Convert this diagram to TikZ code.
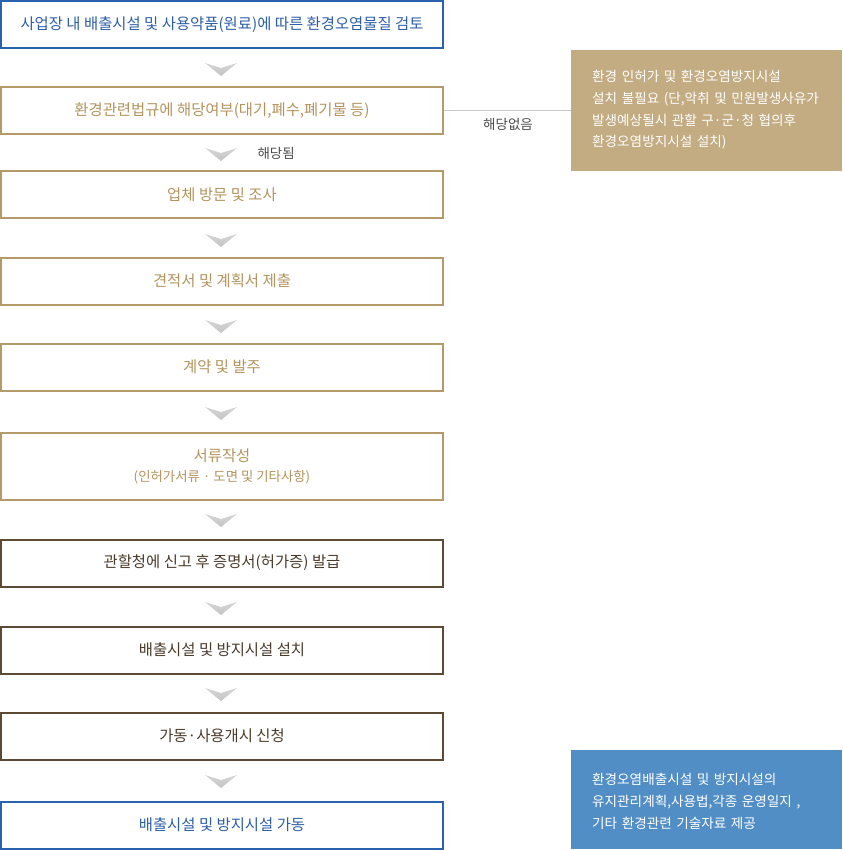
\documentclass[tikz,border=0pt]{standalone}
\usepackage{fontspec}
\newfontfamily\kr{Noto Sans CJK KR}
\definecolor{bblue}{HTML}{2A62B0}
\definecolor{tblue}{HTML}{2D5FA8}
\definecolor{btan}{HTML}{B49A68}
\definecolor{ttan}{HTML}{B3945F}
\definecolor{bbrown}{HTML}{5C4A33}
\definecolor{tbrown}{HTML}{4A3B2A}
\definecolor{sidetan}{HTML}{C3AB82}
\definecolor{sideblue}{HTML}{528EC6}
\definecolor{chev}{HTML}{C4C4C4}
\definecolor{lgray}{HTML}{C8C8C8}
\begin{document}
\begin{tikzpicture}[x=1pt,y=-1pt,
  box/.style={draw, line width=2pt, minimum width=442pt, minimum height=47pt, inner sep=0pt, align=center, font=\kr\fontsize{15.4}{21}\selectfont, fill=white},
  bluebox/.style={box, draw=bblue, text=tblue},
  tanbox/.style={box, draw=btan, text=ttan},
  brownbox/.style={box, draw=bbrown, text=tbrown},
  side/.style={minimum width=271pt, inner sep=0pt, anchor=north west, text=white, font=\kr\fontsize{13.6}{21.8}\selectfont, align=left, text width=227pt},
  lbl/.style={font=\kr\fontsize{13.5}{16}\selectfont, text=black!70},
]
\useasboundingbox (0,0) rectangle (842,850);
\newcommand{\chevat}[2]{\shade[top color=chev!70, bottom color=chev] (#1-16,#2-6) -- (#1,#2-1) -- (#1+16,#2-6) -- (#1,#2+7) -- cycle;}
\node[bluebox] (b1) at (222,25) {사업장 내 배출시설 및 사용약품(원료)에 따른 환경오염물질 검토};
\node[tanbox] (b2) at (222,111) {환경관련법규에 해당여부(대기,폐수,폐기물 등)};
\node[tanbox] (b3) at (222,195) {업체 방문 및 조사};
\node[tanbox] (b4) at (222,281) {견적서 및 계획서 제출};
\node[tanbox] (b5) at (222,367) {계약 및 발주};
\node[tanbox, minimum height=67pt] (b6) at (222,466) {서류작성\\[-1pt]{\fontsize{13.4}{16}\selectfont (인허가서류 · 도면 및 기타사항)}};
\node[brownbox] (b7) at (222,563) {관할청에 신고 후 증명서(허가증) 발급};
\node[brownbox] (b8) at (222,650) {배출시설 및 방지시설 설치};
\node[brownbox] (b9) at (222,736) {가동·사용개시 신청};
\node[bluebox] (b10) at (222,825) {배출시설 및 방지시설 가동};
\chevat{221}{69}
\chevat{221}{154}
\chevat{221}{240}
\chevat{221}{326}
\chevat{221}{413}
\chevat{221}{520}
\chevat{221}{608}
\chevat{221}{694}
\chevat{221}{781}
\node[lbl, anchor=west] (yes) at (254,153) {해당됨};
\node[side, fill=sidetan, minimum height=121pt] (s1) at (571,50) {};
\node[side, anchor=north west, fill=none, minimum width=0pt, text width=240pt, inner sep=0pt] (s1t) at (592,70) {환경 인허가 및 환경오염방지시설\\설치 불필요 (단,악취 및 민원발생사유가\\발생예상될시 관할 구·군·청 협의후\\환경오염방지시설 설치)};
\draw[lgray, line width=1pt] (b2.east) -- (b2.east -| s1.west);
\node[lbl] (no) at (508,124) {해당없음};
\node[side, fill=sideblue, minimum height=99pt] (s2) at (571,750) {};
\node[side, anchor=north west, fill=none, minimum width=0pt, text width=240pt, inner sep=0pt] (s2t) at (592,773) {환경오염배출시설 및 방지시설의\\유지관리계획,사용법,각종 운영일지 ,\\기타 환경관련 기술자료 제공};
\end{tikzpicture}
\end{document}
